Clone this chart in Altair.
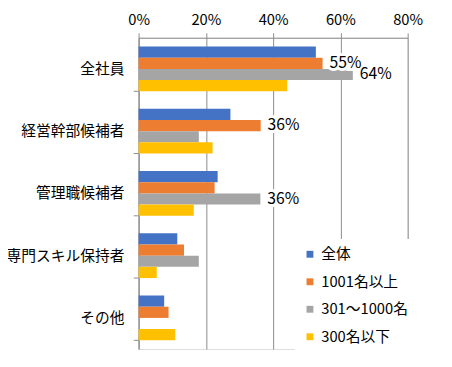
import altair as alt
import pandas as pd

categories = ["全社員", "経営幹部候補者", "管理職候補者", "専門スキル保持者", "その他"]
series = ["全体", "1001名以上", "301～1000名", "300名以下"]
colors = ["#4472C4", "#ED7D31", "#A5A5A5", "#FFC000"]

v_all = [52.7, 27.3, 23.5, 11.5, 7.6]
v_1001 = [54.7, 36.3, 22.6, 13.5, 8.9]
v_301 = [63.7, 17.9, 36.2, 17.9, 0.0]
v_300 = [44.2, 22.0, 16.4, 5.4, 10.9]

labeled = [("全社員", "1001名以上"), ("全社員", "301～1000名"),
           ("経営幹部候補者", "1001名以上"), ("管理職候補者", "301～1000名")]

x_ticks = [0, 20, 40, 60, 80]

rows = []
for s, vals in zip(series, [v_all, v_1001, v_301, v_300]):
    for c, v in zip(categories, vals):
        lab = f"{int(v + 0.5)}%" if (c, s) in labeled else ""
        rows.append({"category": c, "series": s, "value": v, "label": lab})
df = pd.DataFrame(rows)
cat_df = pd.DataFrame({"category": categories})

FONT = "Noto Sans CJK JP"
GRAY = "#8c8c8c"

y_enc = alt.Y("category:N", sort=categories,
              scale=alt.Scale(domain=categories, paddingInner=0.28, paddingOuter=0.14),
              axis=alt.Axis(title=None, ticks=False, domainColor=GRAY, labelFontSize=15,
                            labelPadding=15, labelColor="#000000", labelFont=FONT))
yoff = alt.YOffset("series:N", sort=series, scale=alt.Scale(domain=series, paddingInner=0, paddingOuter=0))
x_enc = alt.X("value:Q", scale=alt.Scale(domain=[0, 80], nice=False),
              axis=alt.Axis(orient="top", title=None, values=x_ticks, labelExpr="datum.value + '%'",
                            grid=True, gridColor=GRAY, domainColor=GRAY, tickColor=GRAY,
                            tickSize=5, labelPadding=5, labelFontSize=15, labelColor="#000000",
                            labelFont=FONT, labelFlush=False, labelOverlap=False))

bars = alt.Chart(df).mark_bar().encode(
    x=x_enc, y=y_enc, yOffset=yoff,
    color=alt.Color("series:N", sort=series,
                    scale=alt.Scale(domain=series, range=colors),
                    legend=alt.Legend(title=None, orient="none", legendX=159, legendY=205,
                                      symbolType="square", symbolSize=49, symbolStrokeWidth=0,
                                      labelFontSize=15, labelFont=FONT, labelColor="#000000",
                                      labelOffset=4, rowPadding=12, padding=8, fillColor="white")),
)

lab_base = alt.Chart(df).transform_filter("datum.label != ''")
lab_bg = lab_base.mark_text(align="left", baseline="middle", dx=7, fontSize=16, font=FONT,
                            fill="white", stroke="white", strokeWidth=6).encode(
    x="value:Q", y=alt.Y("category:N", sort=categories), yOffset=alt.YOffset("series:N", sort=series),
    text="label:N")
lab_fg = lab_base.mark_text(align="left", baseline="middle", dx=7, fontSize=16, font=FONT,
                            color="#000000").encode(
    x="value:Q", y=alt.Y("category:N", sort=categories), yOffset=alt.YOffset("series:N", sort=series),
    text="label:N")

ticks = alt.Chart(cat_df).mark_rule(color=GRAY).encode(
    x=alt.value(-5), x2=alt.value(0),
    y=alt.Y("category:N", sort=categories, bandPosition=1))

chart = alt.layer(bars, ticks, lab_bg, lab_fg).properties(
    width=274, height=317,
    autosize=alt.AutoSizeParams(type="none"),
    padding={"left": 133, "top": 27, "right": 37, "bottom": 15},
    background="white",
).configure_view(stroke=None).configure(font=FONT)

chart.save("out.html", embed_options={"renderer": "svg", "actions": False})
